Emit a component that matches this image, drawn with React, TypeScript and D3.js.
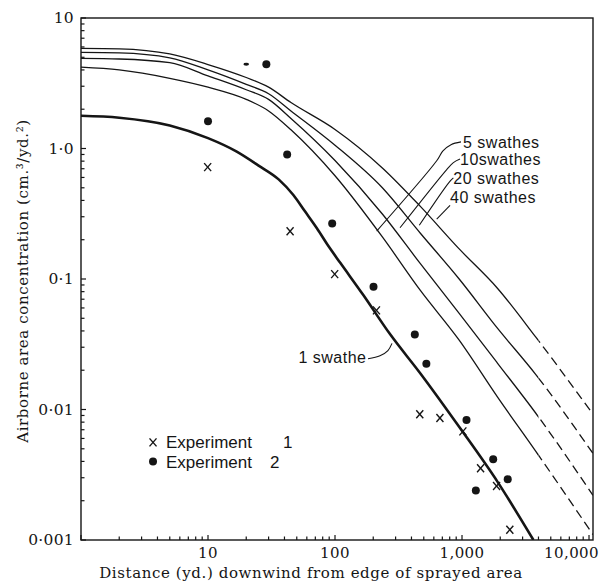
import React from "react";
import * as d3 from "d3";

const W = 600;
const H = 581;
const PLOT_LEFT = 81;
const PLOT_RIGHT = 593;
const PLOT_TOP = 18;
const PLOT_BOTTOM = 540;

const xDomain = [1, 10750];
const yDomain = [0.001, 10];

const xTickValues = [10, 100, 1000, 10000];
const xTickLabels = ["10", "100", "1,000", "10,000"];
const yTickValues = [10, 1, 0.1, 0.01, 0.001];
const yTickLabels = ["10", "1·0", "0·1", "0·01", "0·001"];

// 1 swathe (thick curve)
const oneSwatheX = [1, 2, 5, 10, 16.7, 25, 36, 47, 58, 72, 89, 110, 166, 270, 472, 946, 1900, 3650];
const oneSwatheY = [1.78, 1.72, 1.5, 1.2, 0.95, 0.74, 0.58, 0.44, 0.33, 0.245, 0.178, 0.133, 0.076, 0.038, 0.0188, 0.0074, 0.0028, 0.001];

// multi-swathe curves share x positions
const multiX = [1, 2, 5, 10, 20, 30, 45, 100, 236, 470, 950, 1900, 3800, 10750];
const swathes5 = [4.2, 4.0, 3.45, 2.95, 2.38, 1.94, 1.39, 0.618, 0.21, 0.0817, 0.034, 0.0125, 0.0048, 0.0011];
const swathes10 = [4.9, 4.85, 4.55, 3.6, 2.82, 2.38, 1.7, 0.81, 0.315, 0.131, 0.0545, 0.0227, 0.0094, 0.0022];
const swathes20 = [5.45, 5.4, 4.95, 4.0, 3.1, 2.63, 1.94, 1.06, 0.5, 0.224, 0.1, 0.042, 0.0186, 0.0046];
const swathes40 = [5.85, 5.8, 5.3, 4.4, 3.5, 2.95, 2.25, 1.4, 0.71, 0.36, 0.17, 0.085, 0.036, 0.0092];
const dashFrom = 4000;

// Experiment 1 (crosses)
const exp1X = [9.94, 44.3, 99.4, 212, 465, 670, 1016, 1400, 1871, 2380];
const exp1Y = [0.72, 0.232, 0.109, 0.0575, 0.0092, 0.0086, 0.0068, 0.00355, 0.00259, 0.0012];
// Experiment 2 (dots)
const exp2X = [10, 28.8, 42, 95, 201, 425, 524, 1085, 1285, 1760, 2290];
const exp2Y = [1.62, 4.42, 0.9, 0.266, 0.0873, 0.0376, 0.0224, 0.0083, 0.0024, 0.00415, 0.00292];
const exp2FaintX = [20];
const exp2FaintY = [4.42];

// annotation labels and leaders (data coordinates)
const swatheLabels = ["5 swathes", "10swathes", "20 swathes", "40 swathes"];
const swatheLabelX = [1018, 964, 855, 805];
const swatheLabelY = [1.01, 0.745, 0.537, 0.38];
const leader5X = [982, 819, 708, 632, 213];
const leader5Y = [1.124, 1.07, 0.96, 0.805, 0.233];
const leader10X = [964, 855, 758, 325];
const leader10Y = [0.83, 0.78, 0.69, 0.247];
const leader20X = [855, 794, 461];
const leader20Y = [0.595, 0.553, 0.258];
const leader40X = [805, 632];
const leader40Y = [0.366, 0.288];
const oneLabel = "1 swathe";
const oneLabelX = [177];
const oneLabelY = [0.0228];
const leader1X = [182, 226, 261, 281];
const leader1Y = [0.0245, 0.0258, 0.0283, 0.0321];

const legendLabels = ["Experiment", "Experiment"];
const legendNums = ["1", "2"];
const legendRowY = [0.0056, 0.004];

const INK = "#151515";

export default function App() {
  const x = d3.scaleLog().domain(xDomain).range([PLOT_LEFT, PLOT_RIGHT]);
  const y = d3.scaleLog().domain(yDomain).range([PLOT_BOTTOM, PLOT_TOP]);

  const line = d3
    .line<[number, number]>()
    .x((d) => x(d[0]))
    .y((d) => y(d[1]))
    .curve(d3.curveMonotoneX);
  const leaderLine = d3
    .line<[number, number]>()
    .x((d) => x(d[0]))
    .y((d) => y(d[1]))
    .curve(d3.curveCatmullRom.alpha(0.5));

  const zip = (a: number[], b: number[]) => a.map((v, i) => [v, b[i]] as [number, number]);

  const multi = [swathes5, swathes10, swathes20, swathes40];
  const xMinor = x.ticks();
  const yMinor = y.ticks();
  const splitX = x(dashFrom);

  const leaders = [
    zip(leader5X, leader5Y),
    zip(leader10X, leader10Y),
    zip(leader20X, leader20Y),
    zip(leader40X, leader40Y),
    zip(leader1X, leader1Y),
  ];

  const serif = "'DejaVu Serif', 'Liberation Serif', serif";
  const sans = "'Liberation Sans', Arial, sans-serif";

  const legendMarkX = 3.69;
  const legendTextX = 4.67;
  const legendNumX = [39, 30.8];

  return (
    <svg
      width={W}
      height={H}
      viewBox={`0 0 ${W} ${H}`}
      style={{ position: "absolute", left: 0, top: 0, background: "#fff" }}
    >
      <defs>
        <clipPath id="plot">
          <rect x={PLOT_LEFT} y={PLOT_TOP} width={PLOT_RIGHT - PLOT_LEFT} height={PLOT_BOTTOM - PLOT_TOP} />
        </clipPath>
        <clipPath id="solid">
          <rect x={PLOT_LEFT} y={PLOT_TOP} width={splitX - PLOT_LEFT} height={PLOT_BOTTOM - PLOT_TOP} />
        </clipPath>
        <clipPath id="dashed">
          <rect x={splitX} y={PLOT_TOP} width={PLOT_RIGHT - splitX} height={PLOT_BOTTOM - PLOT_TOP} />
        </clipPath>
      </defs>
      <rect x={0} y={0} width={W} height={H} fill="#fff" />

      {/* frame */}
      <rect
        x={PLOT_LEFT}
        y={PLOT_TOP}
        width={PLOT_RIGHT - PLOT_LEFT}
        height={PLOT_BOTTOM - PLOT_TOP}
        fill="none"
        stroke={INK}
        strokeWidth={1.4}
      />

      {/* ticks */}
      {xMinor.map((t, i) => {
        const major = Math.abs(Math.log10(t) - Math.round(Math.log10(t))) < 1e-9;
        return (
          <line
            key={"xt" + i}
            x1={x(t)}
            x2={x(t)}
            y1={PLOT_BOTTOM}
            y2={PLOT_BOTTOM - (major ? 5 : 3.5)}
            stroke={INK}
            strokeWidth={1.2}
          />
        );
      })}
      {yMinor.map((t, i) => {
        const major = Math.abs(Math.log10(t) - Math.round(Math.log10(t))) < 1e-9;
        return (
          <line
            key={"yt" + i}
            x1={PLOT_LEFT}
            x2={PLOT_LEFT + (major ? 5 : 3.5)}
            y1={y(t)}
            y2={y(t)}
            stroke={INK}
            strokeWidth={1.2}
          />
        );
      })}

      {/* tick labels */}
      {xTickValues.map((t, i) => {
        const last = i === xTickValues.length - 1;
        return (
          <text
            key={"xl" + i}
            x={last ? W - 1 : x(t)}
            y={558}
            textAnchor={last ? "end" : "middle"}
            fontFamily={serif}
            fontSize={15}
            letterSpacing={0.4}
            fill={INK}
          >
            {xTickLabels[i]}
          </text>
        );
      })}
      {yTickValues.map((t, i) => (
        <text
          key={"yl" + i}
          x={74}
          y={y(t)}
          dy="0.35em"
          textAnchor="end"
          fontFamily={serif}
          fontSize={15.5}
          letterSpacing={0.3}
          fill={INK}
        >
          {yTickLabels[i]}
        </text>
      ))}

      {/* axis titles */}
      <text
        x={311}
        y={578}
        textAnchor="middle"
        fontFamily={serif}
        fontSize={15}
        letterSpacing={0.6}
        fill={INK}
      >
        Distance (yd.) downwind from edge of sprayed area
      </text>
      <text
        transform={`translate(28, 281) rotate(-90)`}
        textAnchor="middle"
        fontFamily={serif}
        fontSize={15}
        letterSpacing={0.6}
        fill={INK}
      >
        Airborne area concentration (cm.³/yd.²)
      </text>

      {/* curves */}
      <g clipPath="url(#plot)">
        <g clipPath="url(#solid)">
          {multi.map((ys, i) => (
            <path key={"s" + i} d={line(zip(multiX, ys)) || ""} fill="none" stroke={INK} strokeWidth={1.3} />
          ))}
        </g>
        <g clipPath="url(#dashed)">
          {multi.map((ys, i) => (
            <path
              key={"d" + i}
              d={line(zip(multiX, ys)) || ""}
              fill="none"
              stroke={INK}
              strokeWidth={1.3}
              strokeDasharray="9,5"
            />
          ))}
        </g>
        <path d={line(zip(oneSwatheX, oneSwatheY)) || ""} fill="none" stroke={INK} strokeWidth={2.6} />
      </g>

      {/* leaders */}
      {leaders.map((pts, i) => (
        <path key={"ld" + i} d={leaderLine(pts) || ""} fill="none" stroke={INK} strokeWidth={1.1} />
      ))}

      {/* annotation labels */}
      {swatheLabels.map((s, i) => (
        <text
          key={"sl" + i}
          x={x(swatheLabelX[i])}
          y={y(swatheLabelY[i])}
          fontFamily={sans}
          fontSize={16}
          letterSpacing={0.5}
          fill={INK}
        >
          {s}
        </text>
      ))}
      <text
        x={x(oneLabelX[0])}
        y={y(oneLabelY[0])}
        textAnchor="end"
        fontFamily={sans}
        fontSize={16}
        letterSpacing={0.5}
        fill={INK}
      >
        {oneLabel}
      </text>

      {/* data markers */}
      {exp1X.map((v, i) => {
        const cx = x(v);
        const cy = y(exp1Y[i]);
        return (
          <g key={"e1" + i} stroke={INK} strokeWidth={1.4}>
            <line x1={cx - 3.5} y1={cy - 4} x2={cx + 3.5} y2={cy + 4} />
            <line x1={cx + 3.5} y1={cy - 4} x2={cx - 3.5} y2={cy + 4} />
          </g>
        );
      })}
      {exp2X.map((v, i) => (
        <circle key={"e2" + i} cx={x(v)} cy={y(exp2Y[i])} r={4} fill={INK} />
      ))}
      {exp2FaintX.map((v, i) => (
        <ellipse key={"e2f" + i} cx={x(v)} cy={y(exp2FaintY[i])} rx={2.8} ry={1.4} fill={INK} />
      ))}

      {/* legend */}
      {legendLabels.map((s, i) => {
        const ly = y(legendRowY[i]);
        const mx = x(legendMarkX);
        return (
          <g key={"lg" + i}>
            {i === 0 ? (
              <g stroke={INK} strokeWidth={1.4}>
                <line x1={mx - 3.5} y1={ly - 4} x2={mx + 3.5} y2={ly + 4} />
                <line x1={mx + 3.5} y1={ly - 4} x2={mx - 3.5} y2={ly + 4} />
              </g>
            ) : (
              <circle cx={mx} cy={ly} r={4} fill={INK} />
            )}
            <text x={x(legendTextX)} y={ly} dy="0.36em" fontFamily={sans} fontSize={17} fill={INK}>
              {s}
            </text>
            <text x={x(legendNumX[i])} y={ly} dy="0.36em" fontFamily={sans} fontSize={17} fill={INK}>
              {legendNums[i]}
            </text>
          </g>
        );
      })}
    </svg>
  );
}
